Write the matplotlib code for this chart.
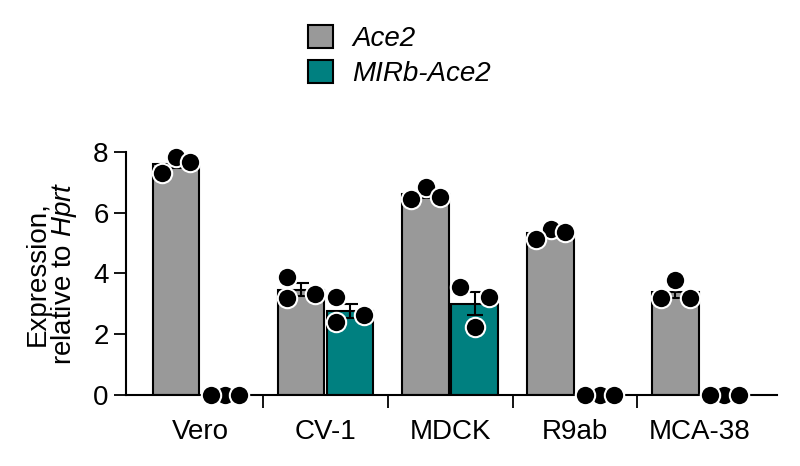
import numpy as np
import matplotlib
matplotlib.use("Agg")
import matplotlib.pyplot as plt
from matplotlib.patches import Patch

plt.rcParams['font.family'] = ['Liberation Sans', 'DejaVu Sans']
plt.rcParams['mathtext.fontset'] = 'custom'
plt.rcParams['mathtext.it'] = 'Liberation Sans:italic'
plt.rcParams['mathtext.rm'] = 'Liberation Sans'

# data
cells = ['Vero', 'CV-1', 'MDCK', 'R9ab', 'MCA-38']
ace2_mean = [7.61, 3.47, 6.60, 5.32, 3.38]
ace2_sem = [0.15, 0.22, 0.12, 0.09, 0.20]
ace2_pts = [[7.31, 7.84, 7.67],
            [3.89, 3.18, 3.34],
            [6.44, 6.83, 6.52],
            [5.15, 5.45, 5.37],
            [3.18, 3.78, 3.18]]
mirb_mean = [0.0, 2.76, 3.01, 0.0, 0.0]
mirb_sem = [0.0, 0.24, 0.39, 0.0, 0.0]
mirb_pts = [[0.0, 0.0, 0.0],
            [3.23, 2.41, 2.63],
            [3.56, 2.25, 3.23],
            [0.0, 0.0, 0.0],
            [0.0, 0.0, 0.0]]

# horizontal placement of the dots within a bar (layout only)
ace2_off = [[-1, 0, 1], [-1, -1, 1], [-1, 0, 1], [-1, 0, 1], [-1, 0, 1]]
mirb_off = [[-1, 0, 1], [-1, -1, 1], [-1, 0, 1], [-1, 0, 1], [-1, 0, 1]]

grey = '#999999'
teal = '#008080'
fs = 20

fig = plt.figure(figsize=(8, 4.66), dpi=100)
ax = fig.add_axes([0.1575, 0.1524, 0.8135, 0.5216])

x = np.arange(len(cells))
w = 0.37
shift = 0.196
step = 0.113

ax.bar(x - shift, ace2_mean, w, color=grey, edgecolor='black', linewidth=1.5, zorder=2)
ax.bar(x + shift, mirb_mean, w, color=teal, edgecolor='black', linewidth=1.5, zorder=2)
ax.errorbar(x - shift, ace2_mean, yerr=ace2_sem, fmt='none', ecolor='black',
            elinewidth=1.5, capsize=5.5, capthick=1.5, zorder=3)
ax.errorbar(x + shift, mirb_mean, yerr=mirb_sem, fmt='none', ecolor='black',
            elinewidth=1.5, capsize=5.5, capthick=1.5, zorder=3)

for i in range(len(cells)):
    for pts, off, c in ((ace2_pts, ace2_off, -shift), (mirb_pts, mirb_off, shift)):
        for j in [1, 0, 2]:
            ax.scatter(i + c + off[i][j] * step, pts[i][j], s=195, color='black',
                       edgecolor='white', linewidth=1.5, zorder=4, clip_on=False)

ax.set_xlim(-0.594, 4.615)
ax.set_ylim(0, 8)
ax.set_yticks([0, 2, 4, 6, 8])
ax.set_xticks(x[:-1] + 0.5)
ax.set_xticklabels([])
ax.set_xticks(x, minor=True)
ax.set_xticklabels(cells, minor=True)
ax.tick_params(axis='x', which='major', length=9.5, width=1.3, direction='out')
ax.tick_params(axis='x', which='minor', length=0, pad=17, labelsize=fs)
ax.tick_params(axis='y', length=9, width=1.3, labelsize=fs, pad=3.5)

for s in ['top', 'right']:
    ax.spines[s].set_visible(False)
for s in ['left', 'bottom']:
    ax.spines[s].set_linewidth(1.5)

ax.set_ylabel('Expression,\nrelative to $\\mathit{Hprt}$', fontsize=fs,
              linespacing=0.95, labelpad=10)

handles = [Patch(facecolor=grey, edgecolor='black', linewidth=1.5),
           Patch(facecolor=teal, edgecolor='black', linewidth=1.5)]
leg = fig.legend(handles, ['Ace2', 'MIRb-Ace2'], loc='upper left',
                 bbox_to_anchor=(0.385, 0.947), frameon=False, fontsize=fs,
                 handlelength=0.9, handleheight=0.9, handletextpad=0.7,
                 labelspacing=0.3, borderpad=0, borderaxespad=0)
for t in leg.get_texts():
    t.set_fontstyle('italic')

fig.savefig('out.png', dpi=100)
